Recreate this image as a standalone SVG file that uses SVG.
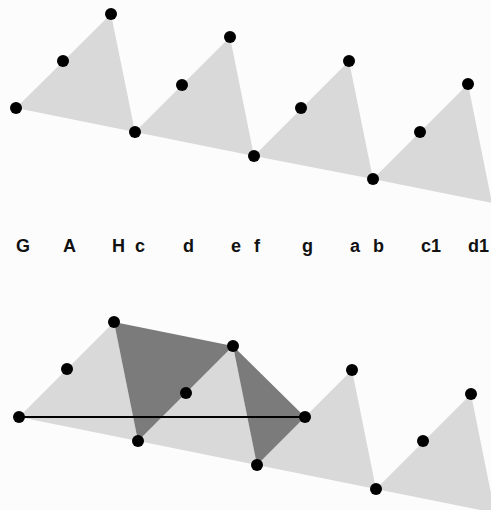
<svg xmlns="http://www.w3.org/2000/svg" width="491" height="510" viewBox="0 0 491 510">
<style>
.tri{fill:#d9d9d9;stroke:none}
.dark{fill:#7b7b7b;stroke:none}
.dot{fill:#000}
.lbl{font-family:"Liberation Sans",Arial,sans-serif;font-weight:bold;font-size:18px;fill:#111}
</style>
<rect width="491" height="510" fill="#fcfcfc"/>
<g id="top-triangles">
<polygon class="tri" points="16,108 111,14 135,132"/>
<polygon class="tri" points="135,132 230,37 254,156"/>
<polygon class="tri" points="254,156 349,61 373,179"/>
<polygon class="tri" points="373,179 468,84 492,203"/>
</g>
<g id="bottom-triangles">
<polygon class="tri" points="19,417 114,322 138,441"/>
<polygon class="tri" points="138,441 233,346 257,465"/>
<polygon class="tri" points="257,465 352,370 376,489"/>
<polygon class="tri" points="376,489 471,394 495,513"/>
</g>
<g id="dark-triangles">
<polygon class="dark" points="114,322 233,346 138,441"/>
<polygon class="dark" points="233,346 305,417 257,465"/>
</g>
<g id="connectors">
<line x1="19" y1="417" x2="305" y2="417" stroke="#000" stroke-width="2.2"/>
</g>
<g id="top-dots">
<circle class="dot" cx="16" cy="108" r="6"/>
<circle class="dot" cx="63" cy="61" r="6"/>
<circle class="dot" cx="111" cy="14" r="6"/>
<circle class="dot" cx="135" cy="132" r="6"/>
<circle class="dot" cx="182" cy="85" r="6"/>
<circle class="dot" cx="230" cy="37" r="6"/>
<circle class="dot" cx="254" cy="156" r="6"/>
<circle class="dot" cx="301" cy="108" r="6"/>
<circle class="dot" cx="349" cy="61" r="6"/>
<circle class="dot" cx="373" cy="179" r="6"/>
<circle class="dot" cx="420" cy="132" r="6"/>
<circle class="dot" cx="468" cy="84" r="6"/>
</g>
<g id="bottom-dots">
<circle class="dot" cx="19" cy="417" r="6"/>
<circle class="dot" cx="67" cy="369" r="6"/>
<circle class="dot" cx="114" cy="322" r="6"/>
<circle class="dot" cx="138" cy="441" r="6"/>
<circle class="dot" cx="186" cy="393" r="6"/>
<circle class="dot" cx="233" cy="346" r="6"/>
<circle class="dot" cx="257" cy="465" r="6"/>
<circle class="dot" cx="305" cy="417" r="6"/>
<circle class="dot" cx="352" cy="370" r="6"/>
<circle class="dot" cx="376" cy="489" r="6"/>
<circle class="dot" cx="423" cy="441" r="6"/>
<circle class="dot" cx="471" cy="394" r="6"/>
</g>
<g id="labels">
<text class="lbl" x="16" y="252">G</text>
<text class="lbl" x="63" y="252">A</text>
<text class="lbl" x="112" y="252">H</text>
<text class="lbl" x="135" y="252">c</text>
<text class="lbl" x="183" y="252">d</text>
<text class="lbl" x="231" y="252">e</text>
<text class="lbl" x="254" y="252">f</text>
<text class="lbl" x="302" y="252">g</text>
<text class="lbl" x="350" y="252">a</text>
<text class="lbl" x="373" y="252">b</text>
<text class="lbl" x="421" y="252">c1</text>
<text class="lbl" x="468" y="252">d1</text>
</g>
</svg>
